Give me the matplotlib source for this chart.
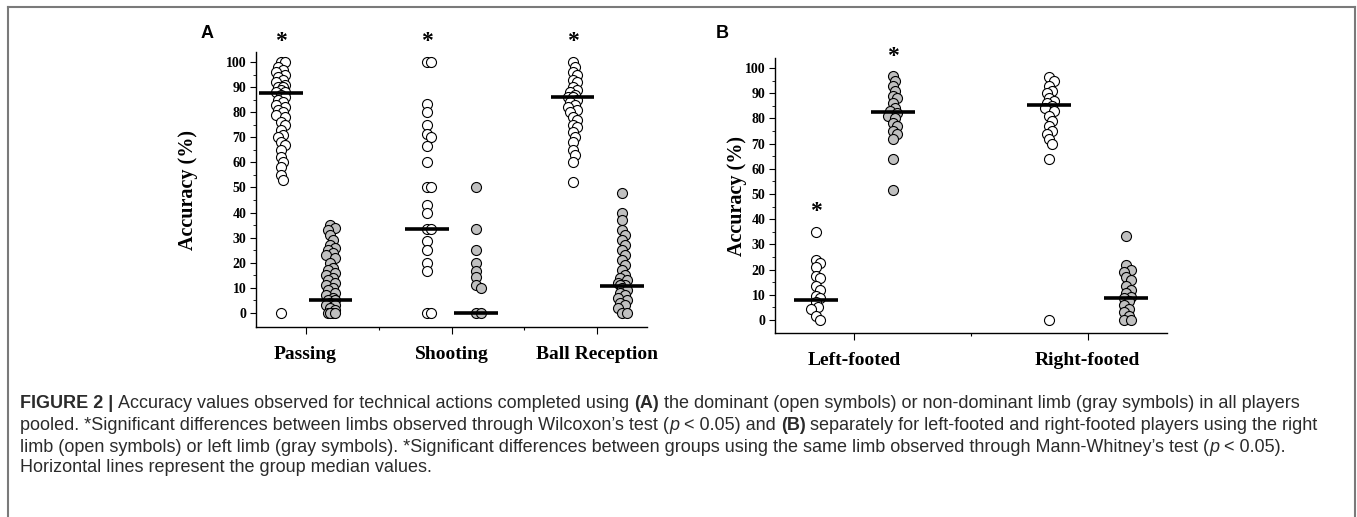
import numpy as np
import matplotlib
matplotlib.use('Agg')
import matplotlib.pyplot as plt
from matplotlib import font_manager
from matplotlib.lines import Line2D

# ---- data (accuracy, %) ----
a_categories = ['Passing', 'Shooting', 'Ball Reception']
a_dominant = [
    [100, 100, 98, 97, 96, 95, 94, 93, 92, 91, 90, 90, 89, 88, 88, 87, 86, 85,
     84, 83, 82, 81, 80, 79, 78, 76, 75, 73, 71, 70, 68, 67, 65, 62, 60, 58, 55, 53, 0],
    [100, 100, 83.3, 80, 75, 71.4, 70, 66.7, 60, 50, 50, 42.9, 40, 33.3, 33.3,
     28.6, 25, 20, 16.7, 0, 0],
    [100, 98, 96, 95, 93, 92, 90, 89, 88, 87, 86, 86, 85, 84, 83, 82, 81, 80, 78,
     77, 75, 74, 72, 70, 68, 65, 63, 60, 52],
]
a_nondominant = [
    [35, 34, 33, 31, 29, 27, 26, 25, 24, 23, 22, 20, 18, 17, 16, 15, 14, 13, 12,
     11, 10, 9, 8, 7, 6, 5, 5, 4, 3, 3, 2, 1, 0, 0, 0, 0],
    [50, 33.3, 25, 20, 16.7, 14.3, 11.1, 10, 0, 0],
    [48, 40, 37, 33, 31, 29, 27, 25, 23, 21, 19, 17, 15, 14, 13, 12, 11, 11, 10,
     9, 8, 7, 6, 5, 4, 3, 2, 0, 0],
]
a_med_dominant = [87.5, 33.3, 86.2]
a_med_nondominant = [5, 0, 10.9]
a_star_y = [108, 108, 108]

b_categories = ['Left-footed', 'Right-footed']
b_right_limb = [
    [35, 23.8, 22.7, 21, 17.4, 16.7, 13.6, 12, 9.5, 8.7, 7.1, 5, 4.3, 1.6, 0],
    [96.5, 95, 93, 91, 90, 88, 87, 86, 85, 84, 83, 81, 79, 77, 75, 74, 72, 70, 64, 0],
]
b_left_limb = [
    [97, 95, 93, 91, 89, 88, 86, 84, 83, 82, 81, 80, 78, 77, 75, 74, 72, 64, 51.6],
    [33.3, 21.7, 20, 19, 17, 15.8, 13.6, 12, 10.5, 9, 8.5, 7.4, 6, 4.5, 3, 1.5, 0, 0],
]
b_med_right = [7.9, 85.2]
b_med_left = [82.7, 8.6]

yticks = list(range(0, 101, 10))

caption_lines = [
    [("FIGURE 2 |", 'bold', 'normal'),
     ("Accuracy values observed for technical actions completed using", 'normal', 'normal'),
     ("(A)", 'bold', 'normal'),
     ("the dominant (open symbols) or non-dominant limb (gray symbols) in all players", 'normal', 'normal')],
    [("pooled. *Significant differences between limbs observed through Wilcoxon\u2019s test (", 'normal', 'normal'),
     ("p", 'normal', 'italic'),
     ("< 0.05) and", 'normal', 'normal'),
     ("(B)", 'bold', 'normal'),
     ("separately for left-footed and right-footed players using the right", 'normal', 'normal')],
    [("limb (open symbols) or left limb (gray symbols). *Significant differences between groups using the same limb observed through Mann-Whitney\u2019s test (", 'normal', 'normal'),
     ("p", 'normal', 'italic'),
     ("< 0.05).", 'normal', 'normal')],
    [("Horizontal lines represent the group median values.", 'normal', 'normal')],
]

installed = {f.name for f in font_manager.fontManager.ttflist}
serif = 'Liberation Serif'
cap_font = 'Liberation Sans Narrow' if 'Liberation Sans Narrow' in installed else 'Liberation Sans'

W, H = 1357, 517
fig = plt.figure(figsize=(W / 100, H / 100), dpi=100)

GRAY = '#c0c0c0'
DIAM = 10  # marker diameter, px


def swarm(vals, xpx_per_unit, ypx_per_unit):
    # small horizontal nudges so overlapping circles stay visible
    placed = []
    out = []
    for v in vals:
        y = v * ypx_per_unit
        best, best_d = 0, -1
        for dx in [0, 2.5, -2.5, 4.5, -4.5]:
            d = min([np.hypot(dx - px, y - py) for px, py in placed] or [1e9])
            if d >= 0.55 * DIAM:
                best = dx
                break
            if d > best_d:
                best, best_d = dx, d
        placed.append((best, y))
        out.append(best / xpx_per_unit)
    return np.array(out)


def panel(rect, cats, open_vals, gray_vals, open_med, gray_med, off, half, ylim, labelpad):
    ax = fig.add_axes(rect)
    ax.set_xlim(1 - 0.34, len(cats) + 0.34)
    ax.set_ylim(*ylim)
    xppu = ax.bbox.width / (ax.get_xlim()[1] - ax.get_xlim()[0])
    yppu = ax.bbox.height / (ylim[1] - ylim[0])
    for i in range(len(cats)):
        x0 = i + 1
        for vals, dx, fc in [(open_vals[i], -off, 'white'), (gray_vals[i], off, GRAY)]:
            v = np.array(vals, dtype=float)
            jx = swarm(v, xppu, yppu)
            ax.scatter(x0 + dx + jx, v, s=52, facecolor=fc, edgecolor='black',
                       linewidth=0.8, zorder=3, clip_on=False)
        ax.plot([x0 - off - half, x0 - off + half], [open_med[i]] * 2,
                color='black', lw=2.6, zorder=4, solid_capstyle='butt')
        ax.plot([x0 + off - half, x0 + off + half], [gray_med[i]] * 2,
                color='black', lw=2.6, zorder=4, solid_capstyle='butt')
    for s in ['top', 'right']:
        ax.spines[s].set_visible(False)
    for s in ['left', 'bottom']:
        ax.spines[s].set_linewidth(1.0)
    ax.set_xticks(range(1, len(cats) + 1))
    ax.set_xticks([i + 1.5 for i in range(len(cats) - 1)], minor=True)
    ax.set_xticklabels(cats, fontfamily=serif, fontweight='bold', fontsize=14)
    ax.set_yticks(yticks)
    ax.set_yticks(np.arange(5, 100, 10), minor=True)
    ax.set_yticklabels([str(t) for t in yticks], fontfamily=serif,
                       fontweight='bold', fontsize=10)
    ax.tick_params(axis='x', which='major', direction='out', length=5, width=0.8, pad=9)
    ax.tick_params(axis='x', which='minor', direction='out', length=2, width=0.8)
    ax.tick_params(axis='y', which='major', direction='out', length=4, width=0.8, pad=3)
    ax.tick_params(axis='y', which='minor', direction='out', length=2, width=0.6)
    ax.set_ylabel('Accuracy (%)', fontfamily=serif, fontweight='bold', fontsize=14.5,
                  labelpad=labelpad)
    return ax


axA = panel([256 / W, 1 - 327 / H, 391 / W, 275 / H], a_categories,
            a_dominant, a_nondominant, a_med_dominant, a_med_nondominant,
            0.17, 0.15, (-5.6, 104), 20)
axB = panel([775 / W, 1 - 333 / H, 392 / W, 275 / H], b_categories,
            b_right_limb, b_left_limb, b_med_right, b_med_left,
            0.165, 0.095, (-5.2, 104), -2)

# significance asterisks
star = dict(ha='center', va='center', fontfamily=serif, fontweight='bold',
            fontsize=17, clip_on=False)
for i, y in enumerate(a_star_y):
    axA.text(i + 1 - 0.17, y, '*', **star)
axB.text(1 - 0.165, 43, '*', **star)
axB.text(1 + 0.165, 104.5, '*', **star)

# panel letters
fig.text(207 / W, 1 - 33 / H, 'A', ha='center', va='center', fontfamily='Liberation Sans',
         fontweight='bold', fontsize=13)
fig.text(722 / W, 1 - 33 / H, 'B', ha='center', va='center', fontfamily='Liberation Sans',
         fontweight='bold', fontsize=13)

# frame around the figure
fig.add_artist(Line2D([8 / W, 1355 / W], [1 - 7 / H, 1 - 7 / H], color='#7a7a7a', lw=1.5))
fig.add_artist(Line2D([8 / W, 8 / W], [0, 1 - 7 / H], color='#7a7a7a', lw=1.5))
fig.add_artist(Line2D([1355 / W, 1355 / W], [0, 1 - 7 / H], color='#7a7a7a', lw=1.5))

# caption, drawn piece by piece
renderer = fig.canvas.get_renderer()


def seg_width(txt, size, weight, style):
    t = fig.text(0, 0, txt, fontfamily=cap_font, fontsize=size, fontweight=weight,
                 fontstyle=style)
    w = t.get_window_extent(renderer).width
    t.remove()
    return w


def space_width(size):
    return seg_width('a a', size, 'normal', 'normal') - seg_width('aa', size, 'normal', 'normal')


def line_width(segs, size):
    sp = space_width(size)
    w = 0
    for k, (txt, wt, st) in enumerate(segs):
        w += seg_width(txt, size, wt, st)
        if k < len(segs) - 1 and not txt.endswith('('):
            w += sp
    return w


target = 1318 - 20
size = 10.0
size = size * target / line_width(caption_lines[1], size)
sp = space_width(size)

line_y = [404, 425, 447, 468]
for segs, yy in zip(caption_lines, line_y):
    x = 20
    for txt, wt, st in segs:
        t = fig.text(x / W, 1 - yy / H, txt, fontfamily=cap_font, fontsize=size,
                     fontweight=wt, fontstyle=st, color='#2b2b2b', va='center', ha='left')
        x += t.get_window_extent(renderer).width
        if not txt.endswith('('):
            x += sp

fig.savefig('out.png', dpi=100)
